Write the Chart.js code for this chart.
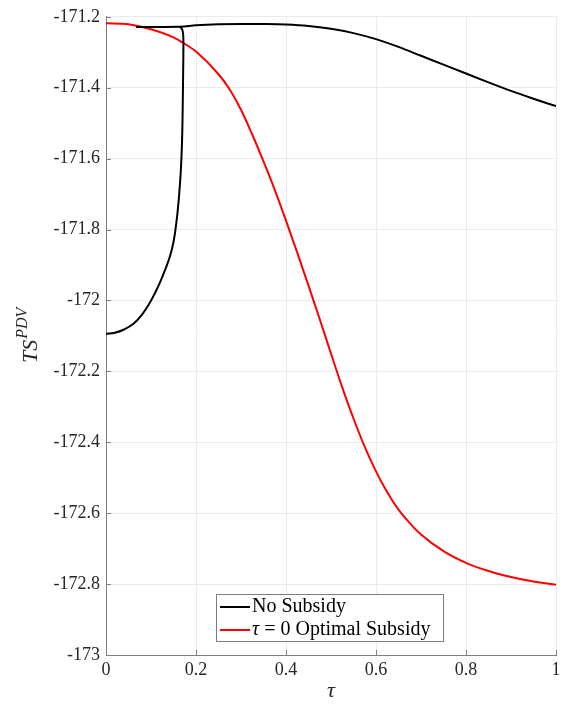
<!DOCTYPE html>
<html>
<head>
<meta charset="utf-8">
<script src="https://cdn.jsdelivr.net/npm/chart.js@4.4.1/dist/chart.umd.min.js"></script>
<style>
  html, body { margin: 0; padding: 0; background: #fff; }
  #wrap { width: 565px; height: 713px; }
</style>
</head>
<body>
<div id="wrap"><canvas id="tsChart" width="565" height="713"></canvas></div>
<script>
// tau = 0 optimal subsidy (red)
const redTau = [0, 0.05, 0.1, 0.15, 0.172, 0.2, 0.25, 0.275, 0.3, 0.325, 0.35, 0.375, 0.4, 0.425, 0.45, 0.475, 0.5, 0.525, 0.55, 0.575, 0.6, 0.625, 0.65, 0.675, 0.7, 0.75, 0.8, 0.85, 0.9, 0.95, 1.0];
const redTS = [-171.218, -171.221, -171.235, -171.258, -171.274, -171.298, -171.362, -171.405, -171.462, -171.532, -171.608, -171.688, -171.775, -171.865, -171.958, -172.053, -172.15, -172.245, -172.333, -172.413, -172.482, -172.541, -172.59, -172.628, -172.66, -172.707, -172.74, -172.763, -172.78, -172.793, -172.802];

// no subsidy (black), upper branch
const blackTauUpper = [0.067, 0.164, 0.2, 0.25, 0.3, 0.35, 0.4, 0.45, 0.5, 0.55, 0.6, 0.65, 0.7, 0.75, 0.8, 0.85, 0.9, 0.95, 1.0];
const blackTSUpper = [-171.229, -171.228, -171.224, -171.221, -171.22, -171.2205, -171.222, -171.226, -171.234, -171.246, -171.263, -171.285, -171.31, -171.335, -171.36, -171.385, -171.409, -171.431, -171.452];

// no subsidy (black), lower branch
const blackTauLower = [0, 0.02, 0.04, 0.061, 0.08, 0.098, 0.11, 0.12, 0.13, 0.142, 0.15, 0.156, 0.161, 0.166, 0.169, 0.1705, 0.1715, 0.172, 0.1715, 0.169, 0.164];
const blackTSLower = [-172.094, -172.091, -172.082, -172.066, -172.04, -172.005, -171.976, -171.949, -171.918, -171.876, -171.835, -171.785, -171.725, -171.64, -171.55, -171.45, -171.35, -171.29, -171.25, -171.235, -171.228];

const xTicks = [0, 0.2, 0.4, 0.6, 0.8, 1];
const yTicks = [-173, -172.8, -172.6, -172.4, -172.2, -172, -171.8, -171.6, -171.4, -171.2];

const toPoints = (xs, ys) => xs.map((x, i) => ({ x: x, y: ys[i] }));
const fmt = v => String(Number(v.toFixed(1)));

const serif = "'Liberation Serif', 'DejaVu Serif', serif";
const axisGray = "#7f7f7f";

// inward tick marks + axis titles + boxed legend
const decorPlugin = {
  id: "decor",
  afterDraw(chart) {
    const ctx = chart.ctx;
    const area = chart.chartArea;
    const xs = chart.scales.x, ys = chart.scales.y;
    ctx.save();
    ctx.strokeStyle = axisGray;
    ctx.lineWidth = 1;
    ctx.beginPath();
    xTicks.forEach(t => {
      const px = Math.round(xs.getPixelForValue(t)) + 0.5;
      ctx.moveTo(px, area.bottom);
      ctx.lineTo(px, area.bottom - 5);
    });
    yTicks.forEach(t => {
      const py = Math.round(ys.getPixelForValue(t)) + 0.5;
      ctx.moveTo(area.left, py);
      ctx.lineTo(area.left + 5, py);
    });
    ctx.stroke();

    // x title
    ctx.fillStyle = "#262626";
    ctx.font = "italic 22px " + serif;
    ctx.textAlign = "center";
    ctx.textBaseline = "alphabetic";
    ctx.fillText("\u03c4", (area.left + area.right) / 2, 697);

    // y title TS^PDV rotated
    ctx.translate(37, (area.top + area.bottom) / 2);
    ctx.rotate(-Math.PI / 2);
    ctx.font = "italic 22px " + serif;
    const main = "TS";
    const sup = "PDV";
    const wMain = ctx.measureText(main).width;
    ctx.font = "italic 16px " + serif;
    const wSup = ctx.measureText(sup).width;
    const start = -(wMain + wSup) / 2;
    ctx.textAlign = "left";
    ctx.font = "italic 22px " + serif;
    ctx.fillText(main, start, 0);
    ctx.font = "italic 16px " + serif;
    ctx.fillText(sup, start + wMain + 1, -10);
    ctx.restore();

    // legend
    const items = chart.data.datasets.filter(d => d.label);
    const bx = 216, by = 594, bw = 227, bh = 47;
    ctx.save();
    ctx.fillStyle = "#fff";
    ctx.fillRect(bx, by, bw, bh);
    ctx.strokeStyle = "#7f7f7f";
    ctx.lineWidth = 1;
    ctx.strokeRect(bx + 0.5, by + 0.5, bw, bh);
    items.forEach((d, i) => {
      const cy = by + 13 + i * 23;
      ctx.strokeStyle = d.borderColor;
      ctx.lineWidth = 2;
      ctx.beginPath();
      ctx.moveTo(bx + 4, cy);
      ctx.lineTo(bx + 34, cy);
      ctx.stroke();
      ctx.fillStyle = "#000";
      ctx.textBaseline = "middle";
      ctx.textAlign = "left";
      let x = bx + 36;
      if (d.label.startsWith("\u03c4")) {
        ctx.font = "italic 20px " + serif;
        ctx.fillText("\u03c4", x, cy);
        x += ctx.measureText("\u03c4").width;
        ctx.font = "20px " + serif;
        ctx.fillText(d.label.slice(1), x, cy);
      } else {
        ctx.font = "20px " + serif;
        ctx.fillText(d.label, x, cy);
      }
    });
    ctx.restore();
  }
};

new Chart(document.getElementById("tsChart"), {
  type: "scatter",
  data: {
    datasets: [
      {
        label: "No Subsidy",
        data: toPoints(blackTauUpper, blackTSUpper),
        borderColor: "#000000",
        backgroundColor: "#000000",
        showLine: true,
        borderWidth: 2,
        pointRadius: 0,
        cubicInterpolationMode: "monotone"
      },
      {
        label: "",
        data: toPoints(blackTauLower, blackTSLower),
        borderColor: "#000000",
        backgroundColor: "#000000",
        showLine: true,
        borderWidth: 2,
        pointRadius: 0,
        tension: 0.4
      },
      {
        label: "\u03c4 = 0 Optimal Subsidy",
        data: toPoints(redTau, redTS),
        borderColor: "#ff0000",
        backgroundColor: "#ff0000",
        showLine: true,
        borderWidth: 2,
        pointRadius: 0,
        cubicInterpolationMode: "monotone"
      }
    ]
  },
  options: {
    responsive: false,
    animation: false,
    layout: { padding: { left: 0, right: 9, top: 13, bottom: 0 } },
    plugins: {
      legend: { display: false },
      tooltip: { enabled: false }
    },
    scales: {
      x: {
        type: "linear",
        min: 0,
        max: 1,
        afterFit(scale) { scale.height = 58; },
        afterBuildTicks(scale) { scale.ticks = xTicks.map(v => ({ value: v })); },
        grid: { color: "#ebebeb", drawTicks: false },
        border: { color: axisGray, width: 1 },
        ticks: {
          padding: 4,
          color: "#262626",
          font: { family: serif, size: 18 },
          maxRotation: 0,
          callback: v => fmt(v)
        }
      },
      y: {
        type: "linear",
        min: -173,
        max: -171.2,
        afterFit(scale) { scale.width = 106; },
        afterBuildTicks(scale) { scale.ticks = yTicks.map(v => ({ value: v })); },
        grid: { color: "#ebebeb", drawTicks: false },
        border: { color: axisGray, width: 1 },
        ticks: {
          padding: 6,
          color: "#262626",
          font: { family: serif, size: 18 },
          callback: v => fmt(v)
        }
      }
    }
  },
  plugins: [decorPlugin]
});
</script>
</body>
</html>
